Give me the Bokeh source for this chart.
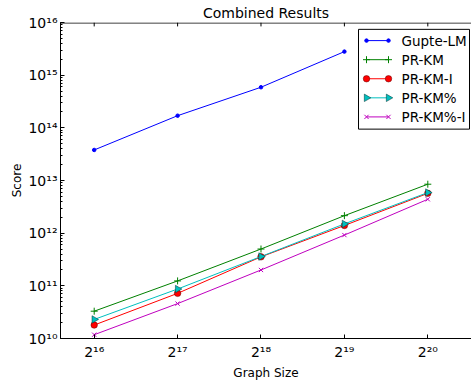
import numpy as np
from bokeh.plotting import figure
from bokeh.models import FixedTicker, LogTicker, Range1d, ColumnDataSource, LinearScale
from bokeh.core.properties import value
from bokeh.embed import file_html
from bokeh.resources import INLINE

x_sizes = [2**16, 2**17, 2**18, 2**19, 2**20]
gupte_lm = [3.8e13, 1.7e14, 5.9e14, 2.8e15]
pr_km = [3.3e10, 1.24e11, 5.0e11, 2.15e12, 8.5e12]
pr_km_i = [1.8e10, 7.2e10, 3.55e11, 1.4e12, 5.7e12]
pr_km_pct = [2.3e10, 8.7e10, 3.6e11, 1.5e12, 5.9e12]
pr_km_pct_i = [1.18e10, 4.6e10, 2.0e11, 9.2e11, 4.4e12]
series_names = ["Gupte-LM", "PR-KM", "PR-KM-I", "PR-KM%", "PR-KM%-I"]
x_tick_labels = {2**16: "2¹⁶", 2**17: "2¹⁷", 2**18: "2¹⁸", 2**19: "2¹⁹", 2**20: "2²⁰"}
y_tick_labels = {10**10: "10¹⁰", 10**11: "10¹¹", 10**12: "10¹²", 10**13: "10¹³",
                 10**14: "10¹⁴", 10**15: "10¹⁵", 10**16: "10¹⁶"}

FONT = "DejaVu Sans"
FRAME_W, FRAME_H = 411, 323

p = figure(width=471, height=382, x_axis_type="log", y_axis_type="log",
           x_range=(2**15.596, 2**20.524), y_range=(1e10, 1e16),
           output_backend="svg", toolbar_location=None,
           min_border_left=60, min_border_right=0, min_border_top=22, min_border_bottom=37,
           title="Combined Results")
p.outline_line_color = None
p.grid.visible = False
p.background_fill_color = "white"
p.border_fill_color = "white"

p.title.align = "center"
p.title.text_font = FONT
p.title.text_font_size = "14px"
p.title.text_font_style = "normal"
p.title.text_color = "black"
p.title.standoff = 3

for ax in p.xaxis:
    ax.ticker = FixedTicker(ticks=x_sizes, minor_ticks=[])
    ax.major_label_overrides = x_tick_labels
    ax.axis_label = "Graph Size"
for ax in p.yaxis:
    ax.ticker = LogTicker(desired_num_ticks=7, num_minor_ticks=10)
    ax.major_label_overrides = y_tick_labels
    ax.axis_label = "Score"

for ax in list(p.xaxis) + list(p.yaxis):
    ax.major_tick_in = 4
    ax.major_tick_out = 0
    ax.minor_tick_in = 2
    ax.minor_tick_out = 0
    ax.axis_line_color = "black"
    ax.major_tick_line_color = "black"
    ax.minor_tick_line_color = "black"
    ax.major_label_text_font = FONT
    ax.major_label_text_font_size = "14px"
    ax.major_label_text_color = "black"
    ax.axis_label_text_font = FONT
    ax.axis_label_text_font_size = "12px"
    ax.axis_label_text_font_style = "normal"
    ax.axis_label_text_color = "black"
for ax in p.xaxis:
    ax.major_label_standoff = 5
    ax.axis_label_standoff = 3
for ax in p.yaxis:
    ax.major_label_standoff = 3
    ax.axis_label_standoff = 1

# frame-pixel coordinate system for the top spine and the legend
p.extra_x_ranges = {"lx": Range1d(0, FRAME_W)}
p.extra_y_ranges = {"ly": Range1d(0, FRAME_H)}
p.extra_x_scales = {"lx": LinearScale()}
p.extra_y_scales = {"ly": LinearScale()}

# top spine with inward ticks (no labels)
p.segment(x0=[0], y0=[FRAME_H - 0.5], x1=[FRAME_W], y1=[FRAME_H - 0.5], line_color="black",
          line_width=1, x_range_name="lx", y_range_name="ly")
p.segment(x0=x_sizes, y0=[FRAME_H] * 5, x1=x_sizes, y1=[FRAME_H - 4] * 5, line_color="black",
          line_width=1, y_range_name="ly")

# data series
p.line(x_sizes[:4], gupte_lm, line_color="#0000ff", line_width=1)
p.scatter(x_sizes[:4], gupte_lm, marker="circle", size=3.5, fill_color="#0000ff", line_color="#0000ff")

p.line(x_sizes, pr_km, line_color="#008000", line_width=1)
p.scatter(x_sizes, pr_km, marker="cross", size=7, line_color="#008000", line_width=1)

p.line(x_sizes, pr_km_i, line_color="#ff0000", line_width=1)
p.scatter(x_sizes, pr_km_i, marker="circle", size=6.5, fill_color="#ff0000", line_color="#600000", line_width=0.5)

p.line(x_sizes, pr_km_pct, line_color="#00bfbf", line_width=1)
p.scatter(x_sizes, pr_km_pct, marker="triangle", angle=-np.pi / 2, size=7.5,
          fill_color="#00bfbf", line_color="#003030", line_width=0.5)

p.line(x_sizes, pr_km_pct_i, line_color="#bf00bf", line_width=1)
p.scatter(x_sizes, pr_km_pct_i, marker="x", size=6, line_color="#bf00bf", line_width=1)

# legend (matplotlib-style: line with two markers)
box_l, box_r, box_t, box_b = 298, 409, 316, 214
p.quad(left=[box_l], right=[box_r], top=[box_t], bottom=[box_b], fill_color="white",
       line_color="black", line_width=1, x_range_name="lx", y_range_name="ly")
row_y = [304.5, 285, 265.5, 246, 226.5]
g0, g1 = 306, 328
styles = [
    dict(color="#0000ff", marker="circle", size=3.5, fill="#0000ff", edge="#0000ff", lw=1, angle=0.0),
    dict(color="#008000", marker="cross", size=7, fill="#008000", edge="#008000", lw=1, angle=0.0),
    dict(color="#ff0000", marker="circle", size=6.5, fill="#ff0000", edge="#600000", lw=0.5, angle=0.0),
    dict(color="#00bfbf", marker="triangle", size=7.5, fill="#00bfbf", edge="#003030", lw=0.5, angle=-np.pi / 2),
    dict(color="#bf00bf", marker="x", size=6, fill="#bf00bf", edge="#bf00bf", lw=1, angle=0.0),
]
for name, yy, st in zip(series_names, row_y, styles):
    p.line([g0, g1], [yy, yy], line_color=st["color"], line_width=1, x_range_name="lx", y_range_name="ly")
    p.scatter([g0, g1], [yy, yy], marker=st["marker"], size=st["size"], fill_color=st["fill"],
              line_color=st["edge"], line_width=st["lw"], angle=st["angle"],
              x_range_name="lx", y_range_name="ly")
src = ColumnDataSource(dict(x=[341] * 5, y=row_y, t=series_names))
p.text(x="x", y="y", text="t", source=src, text_font=value(FONT), text_font_size="13.5px",
       text_color="black", text_baseline="middle", text_align="left",
       x_range_name="lx", y_range_name="ly")

open("out.html", "w").write(file_html(p, INLINE))
